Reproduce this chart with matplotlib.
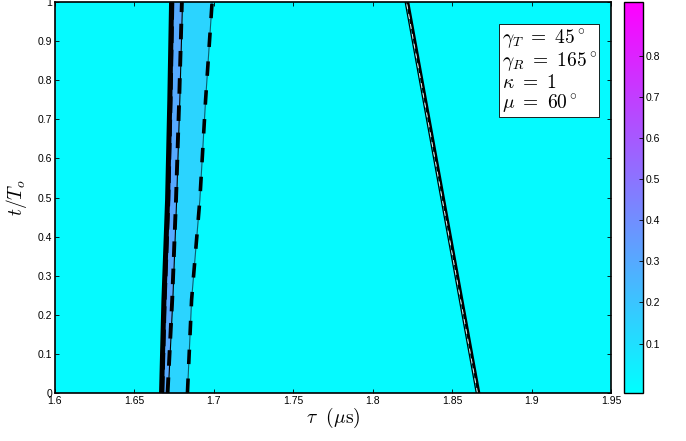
import numpy as np
import matplotlib
matplotlib.use('Agg')
from matplotlib import pyplot as plt
import matplotlib.colors as colors
import matplotlib.cm as cmx

plt.rc('mathtext', fontset='cm')
plt.rc('font', family=['Liberation Sans', 'DejaVu Sans'])
plt.rc('xtick', labelsize=7.5, direction='in')
plt.rc('ytick', labelsize=7.5, direction='in')

# values (tau in microseconds, t/To)
t_rows = [0.0, 0.238, 0.494, 0.749, 1.0]
edge_left = [1.6671, 1.6686, 1.6709, 1.6723, 1.6734]     # outer black contour
edge_mid = [1.6713, 1.6742, 1.6766, 1.6786, 1.6803]      # inner dashed contour
edge_right = [1.6834, 1.6860, 1.6912, 1.6948, 1.6989]    # right dashed contour
ridge_t = [0.0, 1.0]
ridge_tau = [1.8667, 1.8220]
ridge_gap = 0.0016
strip_level = 0.30
band_level = 0.14
vmin, vmax = -0.02, 0.93
cbar_ticks = [0.1, 0.2, 0.3, 0.4, 0.5, 0.6, 0.7, 0.8]
x_ticks = [1.6, 1.65, 1.7, 1.75, 1.8, 1.85, 1.9, 1.95]
y_ticks = [0, 0.1, 0.2, 0.3, 0.4, 0.5, 0.6, 0.7, 0.8, 0.9, 1]
info = [r'$\gamma_T\ =\ 45^\circ$', r'$\gamma_R\ =\ 165^\circ$',
        r'$\kappa\ =\ 1$', r'$\mu\ =\ 60^\circ$']

cmap = plt.get_cmap('cool')
norm = colors.Normalize(vmin=vmin, vmax=vmax)
sm = cmx.ScalarMappable(norm=norm, cmap=cmap)

fig = plt.figure(figsize=(6.86, 4.41), dpi=100)
ax = fig.add_axes([0.080, 0.109, 0.811, 0.886])
ax.set_facecolor(cmap(norm(0.0)))

# band between the contours
ax.fill_betweenx(t_rows, edge_left, edge_mid, color=sm.to_rgba(strip_level), lw=0)
ax.fill_betweenx(t_rows, edge_mid, edge_right, color=sm.to_rgba(band_level), lw=0)

ax.plot(edge_left, t_rows, color='black', lw=3.6, solid_capstyle='butt')
ax.plot(np.array(edge_left) + 0.0012, t_rows, color='black', lw=1.2,
        ls=(0, (10, 4)))
ax.plot(edge_mid, t_rows, color='black', lw=0.8)
ax.plot(np.array(edge_mid) - 0.0004, t_rows, color='black', lw=2.8, ls=(0, (4, 3)))
ax.plot(edge_right, t_rows, color='#0a6070', lw=0.8)
ax.plot(edge_right, t_rows, color='black', lw=2.6, ls=(0, (4, 4)))

# narrow ridge on the right
ax.plot(ridge_tau, ridge_t, color='black', lw=2.2)
ax.plot(np.array(ridge_tau) - ridge_gap, ridge_t, color='black', lw=0.9)
ax.plot(np.array(ridge_tau) - ridge_gap / 2, ridge_t, color='white', lw=0.6,
        ls=(0, (6, 6)))

ax.set_xlim(1.6, 1.95)
ax.set_ylim(0, 1)
ax.set_xticks(x_ticks)
ax.set_xticklabels(['1.6', '1.65', '1.7', '1.75', '1.8', '1.85', '1.9', '1.95'])
ax.set_yticks(y_ticks)
ax.set_yticklabels(['0', '0.1', '0.2', '0.3', '0.4', '0.5', '0.6', '0.7', '0.8', '0.9', '1'])
ax.tick_params(top=True, right=True, length=3, width=0.6, pad=2)
for s in ax.spines.values():
    s.set_linewidth(1.2)

ax.set_xlabel(r'$\tau\ \ (\mu\mathrm{s})$', fontsize=14, labelpad=0)
ax.set_ylabel(r'$t/T_o$', fontsize=14, labelpad=6)

ax.text(0.803, 0.935, '\n'.join(info), transform=ax.transAxes, fontsize=14,
        va='top', ha='left', linespacing=1.0,
        bbox=dict(boxstyle='square,pad=0.12', fc='white', ec='black', lw=0.6))

cax = fig.add_axes([0.910, 0.109, 0.027, 0.886])
cb = fig.colorbar(sm, cax=cax, ticks=cbar_ticks)
cb.ax.tick_params(direction='in', length=3, width=0.6, labelsize=7.5, pad=2)
cb.outline.set_linewidth(1.0)

fig.savefig('out.png', dpi=100)
